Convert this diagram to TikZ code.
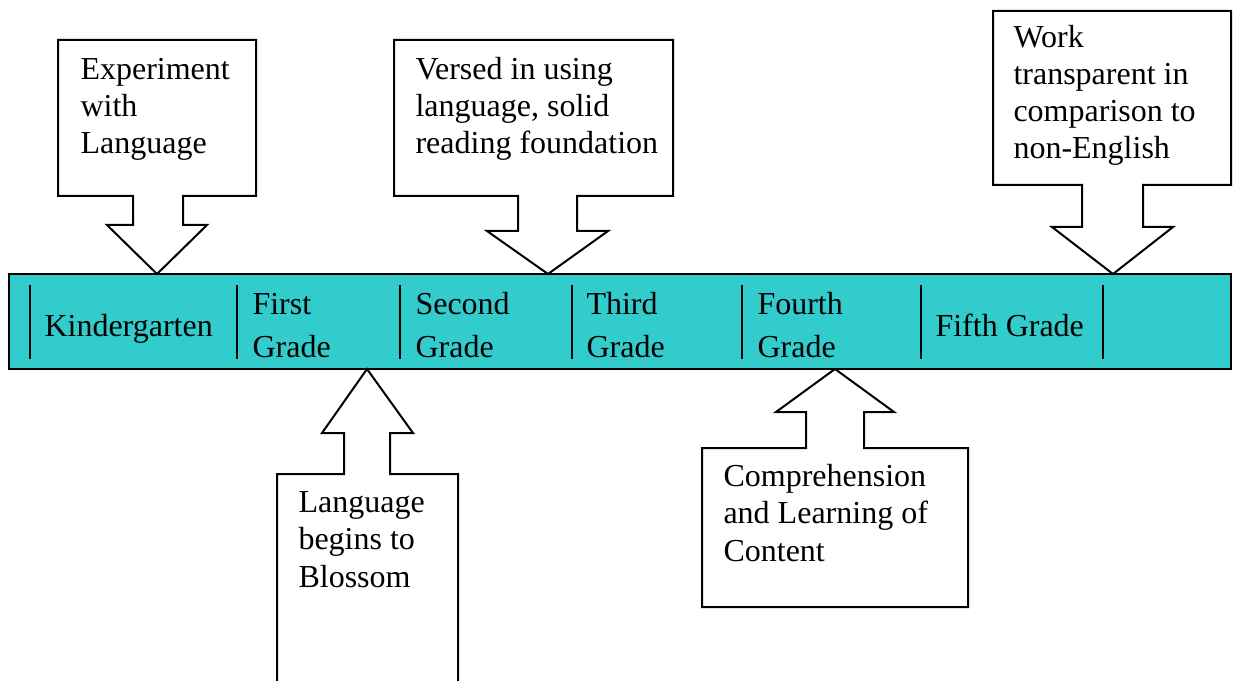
\documentclass[tikz,border=0pt]{standalone}
\usepackage{fontspec}
\setmainfont{Liberation Serif}
\definecolor{barteal}{HTML}{33CCCC}
\tikzset{
  % multi-line nodes are placed by the baseline of their last line
  lbl/.style={anchor=base west, inner sep=0pt, align=left,
    font=\fontsize{12}{13.9}\selectfont},
  gradelbl/.style={lbl, font=\fontsize{12}{16.1}\selectfont},
  callout/.style={draw=black, fill=white, line width=0.75pt, line join=miter},
  timebar/.style={draw=black, fill=barteal, line width=0.75pt},
  divider/.style={line width=0.5pt},
}
\begin{document}
\begin{tikzpicture}[x=0.375pt,y=-0.375pt]
\useasboundingbox (0,0) rectangle (1233,681);

% timeline bar
\coordinate (barNW) at (8.5,274);
\coordinate (barSE) at (1231,369);
\draw[timebar] (barNW) rectangle (barSE);

% column dividers
\foreach \x/\n in {30/d0,237/d1,400/d2,572/d3,742/d4,921/d5,1103/d6}{
  \draw[divider] (\x,285) coordinate (\n top) -- (\x,359) coordinate (\n bot);
}

% grade labels
\node[gradelbl] (kg) at (44,336) {Kindergarten};
\node[gradelbl] (g1) at (252,357) {First\\Grade};
\node[gradelbl] (g2) at (415,357) {Second\\Grade};
\node[gradelbl] (g3) at (586,357) {Third\\Grade};
\node[gradelbl] (g4) at (757,357) {Fourth\\Grade};
\node[gradelbl] (g5) at (935,336) {Fifth Grade};

% callouts above the bar
\coordinate (tipK) at (157,274);
\draw[callout] (58,40) -- (256,40) -- (256,196) -- (183,196) -- (183,225)
  -- (207,225) -- (tipK) -- (107,225) -- (133,225) -- (133,196)
  -- (58,196) -- cycle;
\node[lbl] (cK) at (80,154) {Experiment\\with\\Language};

\coordinate (tipS) at (548,274);
\draw[callout] (394,40) -- (673,40) -- (673,196) -- (577,196) -- (577,231)
  -- (608,231) -- (tipS) -- (487,231) -- (518,231) -- (518,196)
  -- (394,196) -- cycle;
\node[lbl] (cS) at (415,154) {Versed in using\\language, solid\\reading foundation};

\coordinate (tipF) at (1113,274);
\draw[callout] (993,11) -- (1231,11) -- (1231,185) -- (1143,185) -- (1143,227)
  -- (1173,227) -- (tipF) -- (1052,227) -- (1082,227) -- (1082,185)
  -- (993,185) -- cycle;
\node[lbl] (cF) at (1013,159) {Work\\transparent in\\comparison to\\non-English};

% callouts below the bar
\coordinate (tip1) at (367,369);
\draw[callout] (277,700) -- (277,474) -- (344,474) -- (344,433) -- (322,433)
  -- (tip1) -- (413,433) -- (390,433) -- (390,474) -- (458,474) -- (458,700);
\node[lbl] (c1) at (298,587) {Language\\begins to\\Blossom};

\coordinate (tip4) at (835,369);
\draw[callout] (702,607) -- (702,448) -- (806,448) -- (806,412) -- (776,412)
  -- (tip4) -- (894,412) -- (864,412) -- (864,448) -- (968,448)
  -- (968,607) -- cycle;
\node[lbl] (c4) at (723,561) {Comprehension\\and Learning of\\Content};
\end{tikzpicture}
\end{document}
